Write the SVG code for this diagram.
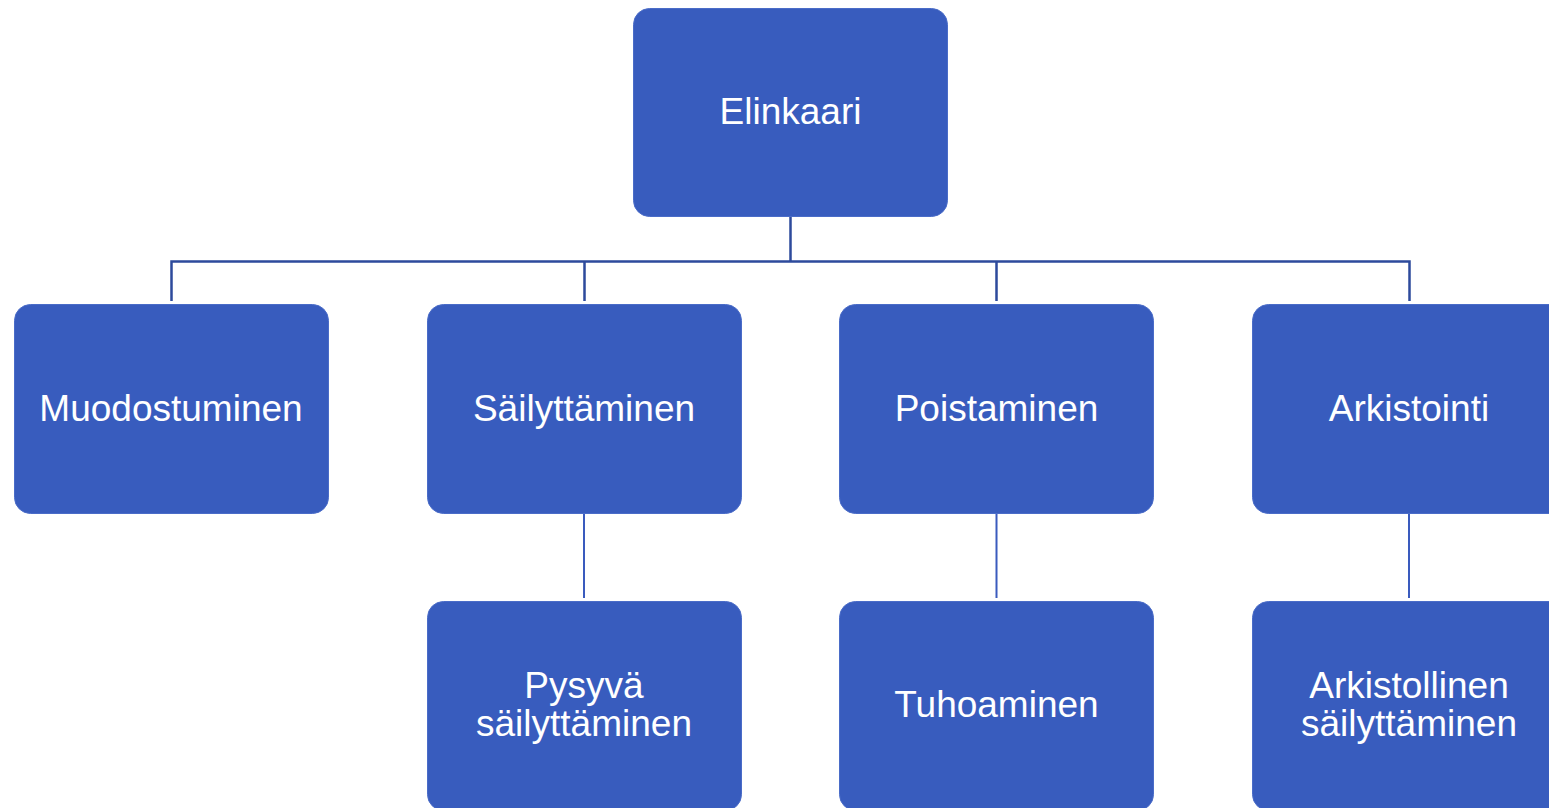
<svg xmlns="http://www.w3.org/2000/svg" width="1549" height="808" viewBox="0 0 1549 808">
<style>
.box{fill:#385cbe;stroke:#4a6cc8;stroke-width:1}
.lbl{fill:#ffffff;font-family:"Liberation Sans",Arial,sans-serif;font-size:37px;text-anchor:middle}
.c1{stroke:#2d4a9c;stroke-width:2.5;fill:none}
.c2{stroke:#3a5bbe;stroke-width:2;fill:none}
</style>
<rect width="1549" height="808" fill="#ffffff"/>
<g id="connectors">
<path class="c1" d="M790.5 217V261.5M171.5 301V261.5H1409.5V301M584.5 261.5V301M996.5 261.5V301"/>
<path class="c2" d="M584 514V598M996.5 514V598M1409 514V598"/>
</g>
<g id="n-elinkaari"><rect class="box" x="633.5" y="8.5" width="314" height="208" rx="16"/><text class="lbl" x="790.5" y="124">Elinkaari</text></g>
<g id="n-muodostuminen"><rect class="box" x="14.5" y="304.5" width="314" height="209" rx="16"/><text class="lbl" x="171" y="421">Muodostuminen</text></g>
<g id="n-sailyttaminen"><rect class="box" x="427.5" y="304.5" width="314" height="209" rx="16"/><text class="lbl" x="584" y="421">Säilyttäminen</text></g>
<g id="n-poistaminen"><rect class="box" x="839.5" y="304.5" width="314" height="209" rx="16"/><text class="lbl" x="996.5" y="421">Poistaminen</text></g>
<g id="n-arkistointi"><rect class="box" x="1252.5" y="304.5" width="314" height="209" rx="16"/><text class="lbl" x="1409" y="421">Arkistointi</text></g>
<g id="n-pysyva"><rect class="box" x="427.5" y="601.5" width="314" height="209" rx="16"/><text class="lbl" x="584" y="698">Pysyvä</text><text class="lbl" x="584" y="736">säilyttäminen</text></g>
<g id="n-tuhoaminen"><rect class="box" x="839.5" y="601.5" width="314" height="209" rx="16"/><text class="lbl" x="996.5" y="717">Tuhoaminen</text></g>
<g id="n-arkistollinen"><rect class="box" x="1252.5" y="601.5" width="314" height="209" rx="16"/><text class="lbl" x="1409" y="698">Arkistollinen</text><text class="lbl" x="1409" y="736">säilyttäminen</text></g>
</svg>
